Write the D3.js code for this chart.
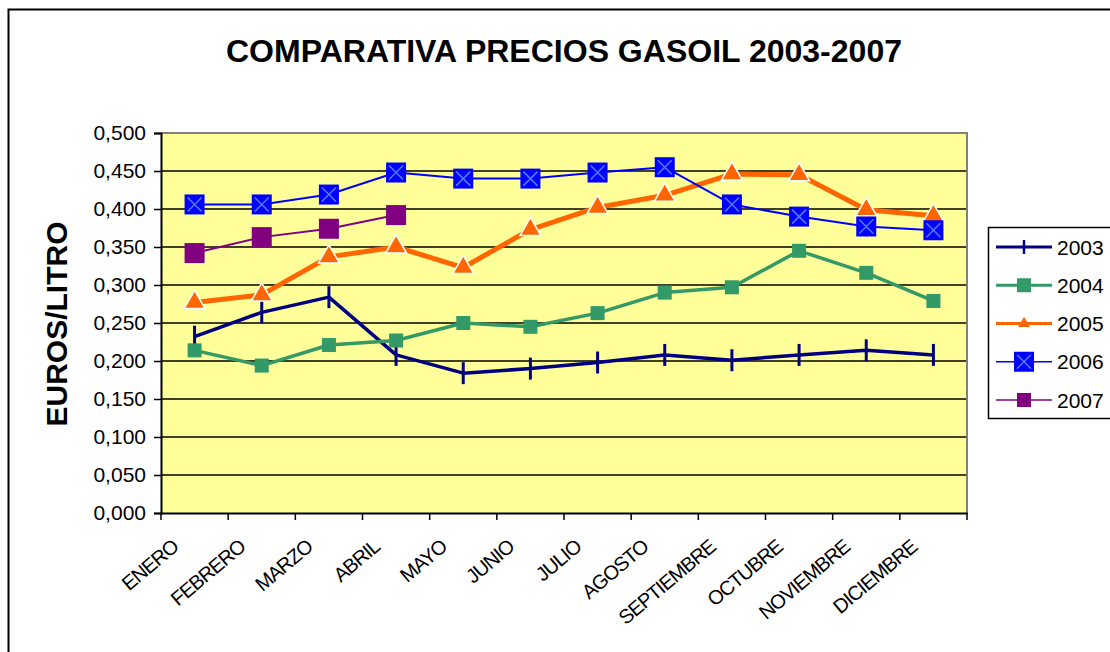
<!DOCTYPE html>
<html>
<head>
<meta charset="utf-8">
<script src="https://cdn.jsdelivr.net/npm/d3@7"></script>
<style>
  body { margin: 0; background: #fff; }
  svg { display: block; font-family: Arial, "Liberation Sans", sans-serif; }
</style>
</head>
<body>
<div id="chart"></div>
<script>
const months = ["ENERO", "FEBRERO", "MARZO", "ABRIL", "MAYO", "JUNIO", "JULIO",
                "AGOSTO", "SEPTIEMBRE", "OCTUBRE", "NOVIEMBRE", "DICIEMBRE"];
const yTicks = [0, 0.05, 0.1, 0.15, 0.2, 0.25, 0.3, 0.35, 0.4, 0.45, 0.5];

const y2003 = [0.232, 0.264, 0.284, 0.208, 0.184, 0.190, 0.198, 0.208, 0.201, 0.208, 0.214, 0.208];
const y2004 = [0.214, 0.194, 0.221, 0.227, 0.250, 0.245, 0.263, 0.290, 0.297, 0.345, 0.316, 0.279];
const y2005 = [0.277, 0.287, 0.337, 0.350, 0.323, 0.373, 0.402, 0.418, 0.446, 0.445, 0.399, 0.391];
const y2006 = [0.406, 0.406, 0.419, 0.448, 0.440, 0.440, 0.448, 0.455, 0.406, 0.390, 0.377, 0.372];
const y2007 = [0.342, 0.363, 0.374, 0.392];

const series = [
  {name: "2003", values: y2003, color: "#000080", width: 3.5, legendWidth: 3, marker: "plus"},
  {name: "2004", values: y2004, color: "#339966", width: 3.5, legendWidth: 3, marker: "smallSquare"},
  {name: "2005", values: y2005, color: "#FF6600", width: 5, legendWidth: 3, marker: "triangle"},
  {name: "2006", values: y2006, color: "#0000FF", width: 2, legendWidth: 1.5, marker: "xSquare"},
  {name: "2007", values: y2007, color: "#800080", width: 2, legendWidth: 1.5, marker: "square"}
];

const W = 1110, H = 652;
const plot = {left: 161, right: 967, top: 133, bottom: 513};

const svg = d3.select("#chart").append("svg")
  .attr("width", W).attr("height", H);

// outer chart border
svg.append("rect")
  .attr("x", 8.5).attr("y", 9.5)
  .attr("width", 1200).attr("height", 700)
  .attr("fill", "#fff").attr("stroke", "#000").attr("stroke-width", 2);

svg.append("text")
  .attr("x", 564).attr("y", 62)
  .attr("text-anchor", "middle")
  .attr("font-weight", "bold")
  .attr("font-size", 32)
  .attr("textLength", 676)
  .attr("lengthAdjust", "spacingAndGlyphs")
  .text("COMPARATIVA PRECIOS GASOIL 2003-2007");

const x = d3.scaleBand().domain(months).range([plot.left, plot.right]);
const y = d3.scaleLinear().domain([0, 0.5]).range([plot.bottom, plot.top]);

svg.append("rect")
  .attr("x", plot.left).attr("y", plot.top)
  .attr("width", plot.right - plot.left).attr("height", plot.bottom - plot.top)
  .attr("fill", "#FFFF99");

// gridlines
svg.append("g").selectAll("line")
  .data(yTicks.slice(1, -1))
  .join("line")
  .attr("x1", plot.left).attr("x2", plot.right)
  .attr("y1", d => y(d)).attr("y2", d => y(d))
  .attr("stroke", "#000").attr("stroke-width", 1.5);

// plot border top/right
svg.append("path")
  .attr("d", `M${plot.left},${plot.top}H${plot.right}V${plot.bottom}`)
  .attr("fill", "none").attr("stroke", "#808080").attr("stroke-width", 2);

const locale = d3.formatLocale({decimal: ",", thousands: ".", grouping: [3], currency: ["", "€"]});
const fmt = locale.format(".3f");

const yAxis = svg.append("g")
  .attr("transform", `translate(${plot.left},0)`)
  .call(d3.axisLeft(y).tickValues(yTicks).tickFormat(fmt).tickSize(7).tickPadding(8));
yAxis.select(".domain").attr("stroke", "#000").attr("stroke-width", 2);
yAxis.selectAll(".tick line").attr("stroke", "#000").attr("stroke-width", 1.5);
yAxis.selectAll(".tick text").attr("font-size", 21).attr("font-family", "Arial, 'Liberation Sans', sans-serif").attr("fill", "#000");

// x axis: ticks on band boundaries
const xAxis = svg.append("g")
  .attr("transform", `translate(0,${plot.bottom})`)
  .call(d3.axisBottom(x).tickSize(0).tickFormat(""));
xAxis.select(".domain").attr("stroke", "#000").attr("stroke-width", 2);
xAxis.selectAll(".tick").remove();

const bounds = months.map(m => x(m)).concat([x(months[months.length - 1]) + x.bandwidth()]);
svg.append("g").selectAll("line")
  .data(bounds)
  .join("line")
  .attr("x1", d => d).attr("x2", d => d)
  .attr("y1", plot.bottom).attr("y2", plot.bottom + 7)
  .attr("stroke", "#000").attr("stroke-width", 1.5);

svg.append("g").selectAll("text")
  .data(months)
  .join("text")
  .attr("transform", d => `translate(${x(d) + x.bandwidth() / 2 - 15},${plot.bottom + 36}) rotate(-40)`)
  .attr("text-anchor", "end")
  .attr("font-size", 20)
  .attr("letter-spacing", -1)
  .text(d => d);

svg.append("text")
  .attr("transform", "translate(67,324) rotate(-90)")
  .attr("text-anchor", "middle")
  .attr("font-weight", "bold")
  .attr("font-size", 30)
  .text("EUROS/LITRO");

function drawMarker(g, type, color, cx, cy) {
  if (type === "plus") {
    g.append("path")
      .attr("d", `M${cx},${cy - 11}V${cy + 11}`)
      .attr("stroke", color).attr("stroke-width", 3);
  } else if (type === "smallSquare") {
    g.append("rect")
      .attr("x", cx - 7).attr("y", cy - 7).attr("width", 14).attr("height", 14)
      .attr("fill", color);
  } else if (type === "triangle") {
    g.append("path")
      .attr("d", d3.symbol(d3.symbolTriangle, 190)())
      .attr("transform", `translate(${cx},${cy})`)
      .attr("fill", color).attr("stroke", "#fff").attr("stroke-width", 1.5);
  } else if (type === "xSquare") {
    g.append("rect")
      .attr("x", cx - 10).attr("y", cy - 10).attr("width", 20).attr("height", 20)
      .attr("fill", color);
    g.append("path")
      .attr("d", `M${cx - 7},${cy - 7}L${cx + 7},${cy + 7}M${cx - 7},${cy + 7}L${cx + 7},${cy - 7}`)
      .attr("stroke", "#4D7FFF").attr("stroke-width", 1.5);
  } else if (type === "square") {
    g.append("rect")
      .attr("x", cx - 10).attr("y", cy - 10).attr("width", 20).attr("height", 20)
      .attr("fill", color);
  }
}

const line = d3.line()
  .x((d, i) => x(months[i]) + x.bandwidth() / 2)
  .y(d => y(d));

series.forEach(s => {
  const g = svg.append("g");
  g.append("path")
    .datum(s.values)
    .attr("fill", "none")
    .attr("stroke", s.color)
    .attr("stroke-width", s.width)
    .attr("stroke-linejoin", "round")
    .attr("d", line);
  s.values.forEach((v, i) => {
    drawMarker(g, s.marker, s.color, x(months[i]) + x.bandwidth() / 2, y(v));
  });
});

// legend
const legend = svg.append("g");
legend.append("rect")
  .attr("x", 988.5).attr("y", 227.5)
  .attr("width", 200).attr("height", 191)
  .attr("fill", "#fff").attr("stroke", "#000").attr("stroke-width", 1.5);

const legendY = d3.scalePoint().domain(series.map(s => s.name)).range([247, 400]);
series.forEach(s => {
  const ly = legendY(s.name);
  const g = legend.append("g");
  g.append("line")
    .attr("x1", 996).attr("x2", 1052)
    .attr("y1", ly).attr("y2", ly)
    .attr("stroke", s.color).attr("stroke-width", s.legendWidth);
  if (s.marker === "triangle") {
    g.append("path")
      .attr("d", d3.symbol(d3.symbolTriangle, 60)())
      .attr("transform", `translate(1024,${ly})`)
      .attr("fill", s.color);
  } else if (s.marker === "smallSquare" || s.marker === "square") {
    g.append("rect").attr("x", 1017).attr("y", ly - 7).attr("width", 14).attr("height", 14).attr("fill", s.color);
  } else if (s.marker === "plus") {
    g.append("path")
      .attr("d", `M1024,${ly - 7}V${ly + 7}`)
      .attr("stroke", s.color).attr("stroke-width", 2.5);
  } else {
    drawMarker(g, s.marker, s.color, 1024, ly);
  }
  g.append("text")
    .attr("x", 1057).attr("y", ly + 7.5)
    .attr("font-size", 21)
    .text(s.name);
});
</script>
</body>
</html>
